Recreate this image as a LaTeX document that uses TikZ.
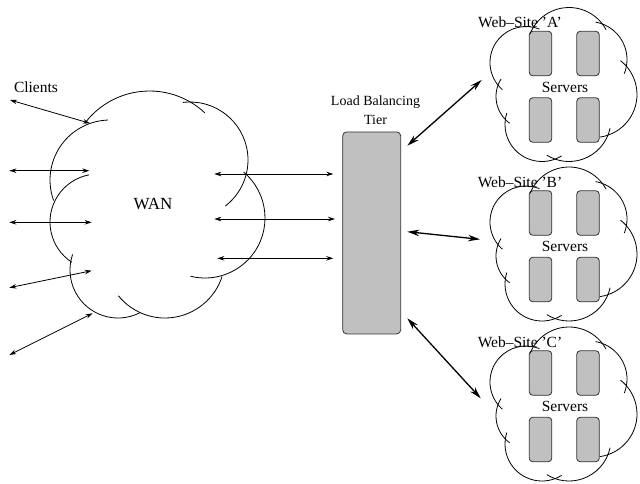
\documentclass[tikz,border=0pt]{standalone}
\usepackage{fontspec}
\setmainfont{Liberation Serif}
\usetikzlibrary{arrows.meta}
\definecolor{cSrv}{HTML}{C0C0C0}
\definecolor{cEdge}{HTML}{333333}
\tikzset{
  lbl/.style={font=\fontsize{15.5}{18}\selectfont, inner sep=0pt},
  cloudline/.style={line width=0.8pt},
  link/.style={{Stealth[length=7pt,width=4.5pt]}-{Stealth[length=7pt,width=4.5pt]}, line width=0.8pt},
  trunk/.style={{Stealth[length=12pt,width=6.5pt]}-{Stealth[length=12pt,width=6.5pt]}, line width=1.3pt},
  server/.style={draw=cEdge, fill=cSrv, rounded corners=3.5pt, line width=0.8pt,
                 minimum width=22.5pt, minimum height=44.5pt, inner sep=0pt},
  balancer/.style={draw=cEdge, fill=cSrv, rounded corners=4pt, line width=0.8pt,
                   minimum width=58pt, minimum height=202pt, inner sep=0pt},
  % one web site: four servers inside a cloud of overlapping arcs
  site/.pic={
    \begin{scope}[yscale=-1]
    \foreach \i/\dx/\dy in {1/-23.5/-31, 2/24/-31, 3/-23.5/35.5, 4/24/35.5}
      \node[server] (-s\i) at (\dx,\dy) {};
    \node[lbl] (-servers) at (1,2.7) {Servers};
    \node[lbl] (-name) at (-44,-62) {Web--Site '#1'};
    \foreach \cx/\cy/\r/\a/\b in {-38/-22/36/131/292, 5/-35/42/202/332,
        25/-25/38/280/382, 30/10/43/308/442, 5/35/42/12/122,
        -22/40/37/58/198, -35/12/33/126/212}
      \draw[cloudline] (\cx,\cy) ++(\a:\r) arc[start angle=\a, end angle=\b, radius=\r];
    \end{scope}
  },
}

\begin{document}
\begin{tikzpicture}[x=1pt, y=1pt, yscale=-1]
\useasboundingbox (0,0) rectangle (640,483);

% ------------------------------------------------------------------ WAN
\foreach \cx/\cy/\r/\a/\b in {149.5/172/81/217/313, 190/160/58/263/412.5,
    205/218/60/310/464, 165/258/60/18/141, 118/270/48/63/199,
    98/222/48/123/259, 110/180/60/160/268}
  \draw[cloudline] (\cx,\cy) ++(\a:\r) arc[start angle=\a, end angle=\b, radius=\r];
\node[lbl, font=\fontsize{17}{20}\selectfont] (wan) at (153,204) {WAN};
\node[lbl] (clients) at (36,87) {Clients};

% clients on the left, links to the balancer on the right
\foreach \i/\xa/\ya/\xb/\yb in {0/10/100/90/123.3, 1/9.3/170.7/89.3/170.7,
    2/9.3/222.3/91.7/222.3, 3/9.3/287.7/91.7/270.7, 4/9.3/355/92.7/313.3,
    5/214.3/174/333.3/174, 6/214.3/219/335/219, 7/217.3/258.3/333.3/258.3} {
  \coordinate (a\i) at (\xa,\ya);
  \coordinate (b\i) at (\xb,\yb);
  \draw[link] (a\i) -- (b\i);
}

% ------------------------------------------------------------------ balancer
\node[balancer] (lb) at (371.7,232.9) {};
\node[lbl, font=\fontsize{14}{19}\selectfont, align=center] (lbtitle) at (375.5,110)
  {Load Balancing\\Tier};

% ------------------------------------------------------------------ web sites
\pic (siteA) at (564,84.5) {site=A};
\pic (siteB) at (564,244) {site=B};
\pic (siteC) at (564,404) {site=C};

\coordinate (lbA) at (407.3,145.7);
\coordinate (lbB) at (407.3,231.7);
\coordinate (lbC) at (407.3,318.3);
\coordinate (inA) at (481.7,80);
\coordinate (inB) at (480,239.3);
\coordinate (inC) at (480.7,398.3);
\foreach \s in {A,B,C}
  \draw[trunk] (lb\s) -- (in\s);

\end{tikzpicture}
\end{document}
